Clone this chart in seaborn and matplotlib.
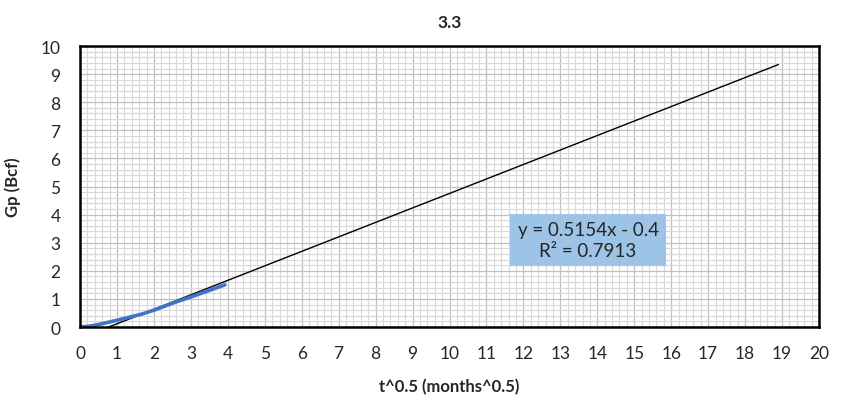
import numpy as np
import pandas as pd
import matplotlib
matplotlib.use("Agg")
import matplotlib.pyplot as plt
import seaborn as sns
from matplotlib.ticker import MultipleLocator

# === Data ===
sqrt_t = [0.0, 0.25, 0.5, 0.77, 1.0, 1.67, 2.0, 2.57, 3.0, 3.47, 3.92]
gp_bcf = [0.0, 0.03, 0.09, 0.17, 0.24, 0.46, 0.60, 0.88, 1.07, 1.29, 1.50]

trend_slope = 0.5154
trend_intercept = -0.4
trend_x = [0.776, 18.9]
trend_label = "y = 0.5154x - 0.4\nR² = 0.7913"

x_ticks = list(range(0, 21))
y_ticks = list(range(0, 11))

df = pd.DataFrame({"t": sqrt_t, "gp": gp_bcf})
trend = pd.DataFrame({"t": trend_x})
trend["gp"] = trend_slope * trend["t"] + trend_intercept

sns.set_style("white")
plt.rcParams["font.family"] = ["Lato", "DejaVu Sans"]

fig = plt.figure(figsize=(8.46, 4.02), dpi=100)
ax = fig.add_axes([0.0946, 0.184, 0.8735, 0.699])

sns.lineplot(data=trend, x="t", y="gp", ax=ax, color="black", linewidth=1.0)
sns.lineplot(data=df, x="t", y="gp", ax=ax, color="#4472C4", linewidth=2.6)

ax.set_xlim(0, 20)
ax.set_ylim(0, 10)
ax.set_xticks(x_ticks)
ax.set_yticks(y_ticks)
ax.xaxis.set_minor_locator(MultipleLocator(0.2))
ax.yaxis.set_minor_locator(MultipleLocator(0.2))
ax.grid(which="minor", color="#d9d9d9", linewidth=0.8)
ax.grid(which="major", color="#bfbfbf", linewidth=0.9)
ax.set_axisbelow(True)
ax.tick_params(which="both", length=0, labelsize=12.5)
ax.tick_params(axis="x", pad=13)
ax.tick_params(axis="y", pad=14)

for s in ax.spines.values():
    s.set_visible(True)
    s.set_color("black")
    s.set_linewidth(1.8)

ax.set_xlabel("t^0.5 (months^0.5)", fontsize=12, fontweight="bold", labelpad=12)
ax.set_ylabel("Gp (Bcf)", fontsize=12, fontweight="bold", labelpad=14)
ax.set_title("3.3", fontsize=12.5, fontweight="bold", pad=14)

ax.text(13.75, 3.1, trend_label, ha="center", va="center", fontsize=13.5,
        linespacing=1.25,
        bbox=dict(boxstyle="square,pad=0.4", facecolor="#9DC3E6", edgecolor="none"))

fig.savefig("out.png", dpi=100)
